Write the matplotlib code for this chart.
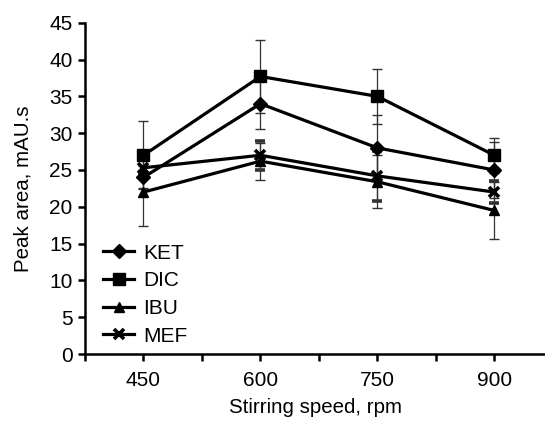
import matplotlib.pyplot as plt
from matplotlib.lines import Line2D

plt.rcParams['font.family'] = ['Liberation Sans', 'DejaVu Sans']

speed = [450, 600, 750, 900]
ket = [24.0, 34.0, 28.0, 25.0]
ket_err = [1.5, 3.4, 4.5, 3.8]
dic = [27.0, 37.7, 35.0, 27.0]
dic_err = [4.6, 5.0, 3.7, 2.4]
ibu = [22.0, 26.2, 23.4, 19.5]
ibu_err = [4.6, 2.5, 3.6, 3.9]
mef = [25.3, 27.0, 24.2, 22.0]
mef_err = [1.0, 2.0, 3.4, 1.5]

fig = plt.figure(figsize=(5.45, 4.21), dpi=100)
ax = fig.add_axes([0.156, 0.159, 0.844, 0.787])

series = [
    ('KET', ket, ket_err, 'D', 7, 1.0),
    ('DIC', dic, dic_err, 's', 8, 1.0),
    ('IBU', ibu, ibu_err, '^', 7, 1.0),
    ('MEF', mef, mef_err, 'x', 7, 2.6),
]
handles = []
for name, vals, err, mk, ms, mew in series:
    ax.errorbar(speed, vals, yerr=err, color='black', ecolor='#333333',
                elinewidth=0.9, capsize=3.5, capthick=0.9, linewidth=2.3,
                marker=mk, markersize=ms, markeredgewidth=mew)
    handles.append(Line2D([], [], color='black', linewidth=2.3, marker=mk,
                          markersize=ms, markeredgewidth=mew, label=name))

ax.set_xlim(375, 965)
ax.set_ylim(0, 45)
ax.set_xticks(range(375, 901, 75))
ax.set_xticklabels(['' if v not in speed else str(v) for v in range(375, 901, 75)])
ax.set_yticks(range(0, 46, 5))
ax.spines['top'].set_visible(False)
ax.spines['right'].set_visible(False)
ax.spines['left'].set_linewidth(1.8)
ax.spines['bottom'].set_linewidth(1.8)
ax.tick_params(axis='both', direction='out', length=5, width=1.8, labelsize=15)
ax.tick_params(axis='y', pad=4)
ax.tick_params(axis='x', pad=7)

ax.set_xlabel('Stirring speed, rpm', fontsize=14.8, labelpad=6)
ax.set_ylabel('Peak area, mAU.s', fontsize=14.8, labelpad=12)

ax.legend(handles=handles, loc='lower left', bbox_to_anchor=(0.04, 0.025),
          frameon=False, fontsize=15, handlelength=1.45, handletextpad=0.45,
          labelspacing=0.42, borderpad=0, borderaxespad=0)

fig.savefig('out.png', dpi=100)
